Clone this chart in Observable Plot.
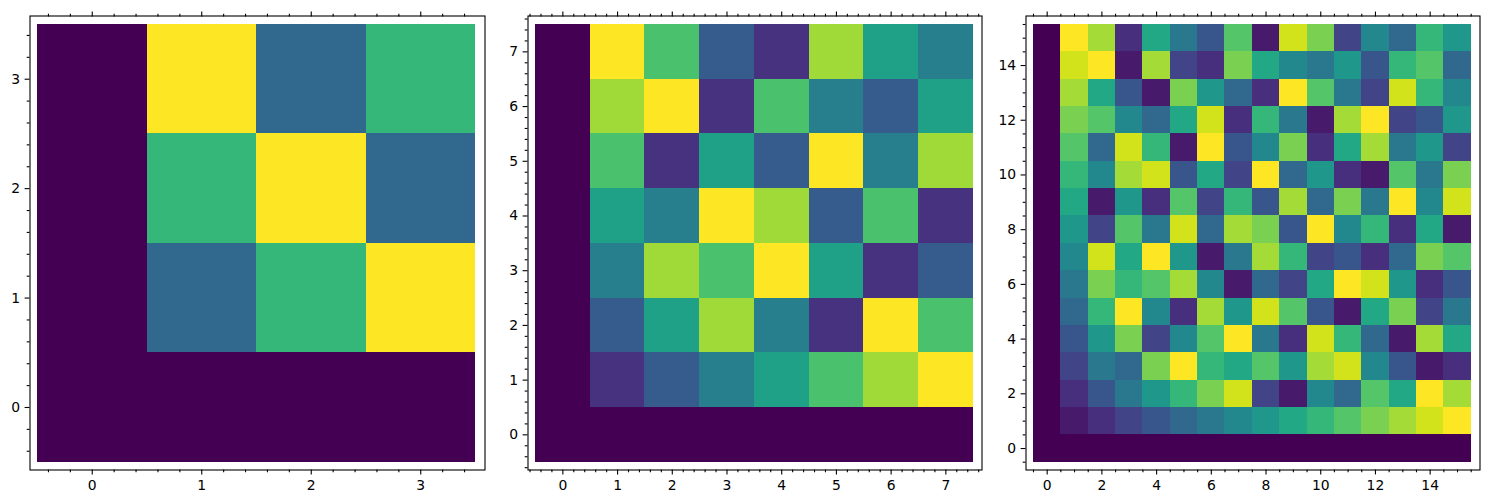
<!DOCTYPE html>
<html>
<head>
<meta charset="utf-8">
<script src="https://cdn.jsdelivr.net/npm/d3@7"></script>
<script src="https://cdn.jsdelivr.net/npm/@observablehq/plot@0.6"></script>
<style>
  html, body { margin: 0; padding: 0; background: #fff; }
  #wrap { position: relative; width: 1489px; height: 504px; overflow: hidden; }
  #wrap svg { position: absolute; top: 0; background: transparent; }
  #wrap svg text, #wrap svg g[aria-label*="tick label"] { font-family: "DejaVu Sans", sans-serif !important; font-size: 13.9px !important; fill: #000; }
</style>
</head>
<body>
<div id="wrap"></div>
<script>
// Multiplication tables (row = y, column = x)
const gf4 = [
  [0,0,0,0],
  [0,1,2,3],
  [0,2,3,1],
  [0,3,1,2]
];
const gf8 = [
  [0,0,0,0,0,0,0,0],
  [0,1,2,3,4,5,6,7],
  [0,2,4,6,3,1,7,5],
  [0,3,6,5,7,4,1,2],
  [0,4,3,7,6,2,5,1],
  [0,5,1,4,2,7,3,6],
  [0,6,7,1,5,3,2,4],
  [0,7,5,2,1,6,4,3]
];
const gf16 = [
  [0,0,0,0,0,0,0,0,0,0,0,0,0,0,0,0],
  [0,1,2,3,4,5,6,7,8,9,10,11,12,13,14,15],
  [0,2,4,6,8,10,12,14,3,1,7,5,11,9,15,13],
  [0,3,6,5,12,15,10,9,11,8,13,14,7,4,1,2],
  [0,4,8,12,3,7,11,15,6,2,14,10,5,1,13,9],
  [0,5,10,15,7,2,13,8,14,11,4,1,9,12,3,6],
  [0,6,12,10,11,13,7,1,5,3,9,15,14,8,2,4],
  [0,7,14,9,15,8,1,6,13,10,3,4,2,5,12,11],
  [0,8,3,11,6,14,5,13,12,4,15,7,10,2,9,1],
  [0,9,1,8,2,11,3,10,4,13,5,12,6,15,7,14],
  [0,10,7,13,14,4,9,3,15,5,8,2,1,11,6,12],
  [0,11,5,14,10,1,15,4,7,12,2,9,13,6,8,3],
  [0,12,11,7,5,9,14,2,10,6,1,13,15,3,4,8],
  [0,13,9,4,1,12,8,5,2,15,11,6,3,14,10,7],
  [0,14,15,1,13,3,2,12,9,7,6,8,4,10,11,5],
  [0,15,13,2,9,6,4,11,1,14,12,3,7,5,10,8]
];
// Major tick labels per panel
const ticks4 = [0,1,2,3];
const ticks8 = [0,1,2,3,4,5,6,7];
const ticks16 = [0,2,4,6,8,10,12,14];
const minorStep = [0.2, 0.2, 0.5];

const panels = [
  {table: gf4,  major: ticks4,  minor: minorStep[0], left: 0,   width: 500, mL: 29.5, mR: 15.5, rx: [37, 475]},
  {table: gf8,  major: ticks8,  minor: minorStep[1], left: 500, width: 495, mL: 27.5, mR: 13.5, rx: [35, 472.7]},
  {table: gf16, major: ticks16, minor: minorStep[2], left: 995, width: 494, mL: 30.5, mR: 9.5,  rx: [38, 475.7]}
];

const H = 504, mT = 15.5, mB = 34.5, ry = [461.7, 24];
const wrap = document.getElementById("wrap");
const fmt = d3.format("d");

for (const p of panels) {
  const n = p.table.length;
  const cells = [];
  p.table.forEach((row, y) => row.forEach((v, x) => cells.push({x, y, v})));

  // pixel-per-unit to find which minor ticks fall inside the frame
  const ux = (p.rx[1] - p.rx[0]) / n;
  const uy = (ry[0] - ry[1]) / n;
  const xLo = -0.5 - (p.rx[0] - p.mL) / ux;
  const xHi = n - 0.5 + ((p.width - p.mR) - p.rx[1]) / ux;
  const yLo = -0.5 - ((H - mB) - ry[0]) / uy;
  const yHi = n - 0.5 + (ry[1] - mT) / uy;
  const isMajor = v => p.major.some(m => Math.abs(m - v) < 1e-6);
  const minorX = d3.range(Math.ceil(xLo / p.minor), Math.floor(xHi / p.minor) + 1)
    .map(k => +(k * p.minor).toFixed(4)).filter(v => !isMajor(v) && v > xLo && v < xHi);
  const minorY = d3.range(Math.ceil(yLo / p.minor), Math.floor(yHi / p.minor) + 1)
    .map(k => +(k * p.minor).toFixed(4)).filter(v => !isMajor(v) && v > yLo && v < yHi);

  const axisStyle = {tickSize: 4.9, tickPadding: 4.9, label: null, strokeWidth: 1.1,
                     fontSize: 13.9, fill: "black", tickFormat: fmt};
  const minorStyle = {tickSize: 2.8, tickFormat: () => "", label: null, strokeWidth: 1.1};

  const chart = Plot.plot({
    width: p.width,
    height: H,
    marginLeft: p.mL,
    marginRight: p.mR,
    marginTop: mT,
    marginBottom: mB,
    style: {fontFamily: "DejaVu Sans", fontSize: "13.9px", color: "black", background: "transparent"},
    x: {type: "linear", domain: [-0.5, n - 0.5], range: p.rx},
    y: {type: "linear", domain: [-0.5, n - 0.5], range: ry},
    color: {type: "linear", scheme: "viridis", domain: [0, n - 1]},
    marks: [
      Plot.rect(cells, {
        x1: d => d.x - 0.5, x2: d => d.x + 0.5,
        y1: d => d.y - 0.5, y2: d => d.y + 0.5,
        fill: "v", inset: 0, shapeRendering: "crispEdges"
      }),
      Plot.frame({stroke: "black", strokeWidth: 1.1}),
      Plot.axisX(p.major, {anchor: "bottom", ...axisStyle}),
      Plot.axisX(minorX, {anchor: "bottom", ...minorStyle}),
      Plot.axisX(p.major, {anchor: "top", ...axisStyle, tickFormat: () => ""}),
      Plot.axisX(minorX, {anchor: "top", ...minorStyle}),
      Plot.axisY(p.major, {anchor: "left", ...axisStyle}),
      Plot.axisY(minorY, {anchor: "left", ...minorStyle})
    ]
  });
  chart.style.left = p.left + "px";
  wrap.appendChild(chart);
}
</script>
</body>
</html>
